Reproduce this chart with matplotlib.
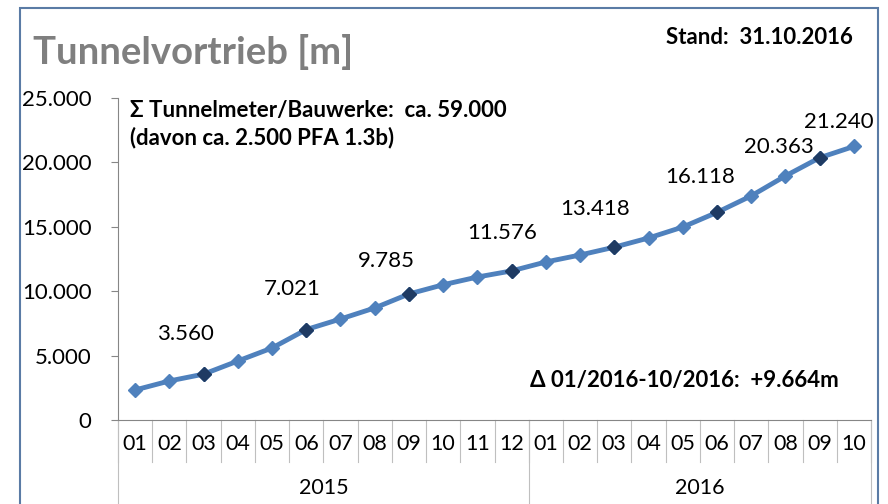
import matplotlib.pyplot as plt
from matplotlib.patches import Rectangle
import matplotlib.transforms as mtransforms

# Daten (kumulativer Tunnelvortrieb in m)
monate = ['01', '02', '03', '04', '05', '06', '07', '08', '09', '10', '11', '12',
          '01', '02', '03', '04', '05', '06', '07', '08', '09', '10']
jahre = ['2015', '2016']
monate_pro_jahr = [12, 10]
vortrieb = [2330, 3030, 3560, 4580, 5590, 7021, 7840, 8700, 9785, 10500, 11100, 11576,
            12270, 12810, 13418, 14130, 14980, 16118, 17400, 18950, 20363, 21240]
quartal_idx = [2, 5, 8, 11, 14, 17, 20]
label_idx = [2, 5, 8, 11, 14, 17, 20, 21]
# Verschiebung der Beschriftungen in Pixel
label_off = [(-18, 40), (-14, 41), (-23, 33), (-9, 38), (-19, 38), (-17, 35), (-41, 11), (-15, 24)]

plt.rcParams['font.family'] = ['Lato', 'DejaVu Sans']

fig = plt.figure(figsize=(8.88, 5.04), dpi=100)
fig.patches.append(Rectangle((20/888, -0.05), 858/888, 1.05 - 8/504, transform=fig.transFigure,
                             fill=False, edgecolor='#5A7BA5', linewidth=1.5))

ax = fig.add_axes([118/888, 1 - 420/504, 753/888, 322/504])
x = list(range(len(vortrieb)))
ax.plot(x, vortrieb, color='#4F81BD', linewidth=3.5, marker='D', markersize=7,
        markerfacecolor='#4F81BD', markeredgecolor='#4F81BD', zorder=3)
ax.plot([x[i] for i in quartal_idx], [vortrieb[i] for i in quartal_idx], linestyle='none',
        marker='D', markersize=7, color='#1F3B63', zorder=4)

for i, (dx, dy) in zip(label_idx, label_off):
    txt = f'{vortrieb[i]:,}'.replace(',', '.')
    ax.annotate(txt, (x[i], vortrieb[i]), xytext=(dx, dy), textcoords='offset pixels',
                ha='center', va='center', fontsize=16, color='black')

ax.set_xlim(-0.5, len(vortrieb) - 0.5)
ax.set_ylim(0, 25000)
ax.set_yticks([0, 5000, 10000, 15000, 20000, 25000])
ax.set_yticklabels(['0', '5.000', '10.000', '15.000', '20.000', '25.000'], fontsize=16)
ax.tick_params(axis='y', length=5, color='#868686', pad=14)
ax.spines['top'].set_visible(False)
ax.spines['right'].set_visible(False)
ax.spines['left'].set_color('#868686')
ax.spines['bottom'].set_color('#868686')

ax.set_xticks(x)
ax.set_xticklabels(monate, fontsize=15.5)
ax.tick_params(axis='x', length=0, pad=10)

trans = mtransforms.blended_transform_factory(ax.transData, ax.transAxes)
for k in range(len(monate) + 1):
    ax.plot([k - 0.5, k - 0.5], [0, -0.13], transform=trans, color='#BFBFBF',
            linewidth=0.8, clip_on=False)
start = -0.5
for j, n in zip(jahre, monate_pro_jahr):
    ax.plot([start, start], [0, -0.27], transform=trans, color='#BFBFBF',
            linewidth=0.8, clip_on=False)
    ax.text(start + n / 2, -0.21, j, transform=trans, ha='center', va='center', fontsize=15.5)
    start += n
ax.plot([start, start], [0, -0.27], transform=trans, color='#BFBFBF', linewidth=0.8, clip_on=False)

fig.text(33/888, 1 - 52/504, 'Tunnelvortrieb [m]', fontsize=27.5, fontweight='bold',
         color='#7F7F7F', va='center', ha='left')
fig.text(853/888, 1 - 37/504, 'Stand:  31.10.2016', fontsize=16, fontweight='bold',
         va='center', ha='right')
fig.text(130/888, 1 - 110/504, 'Σ Tunnelmeter/Bauwerke:  ca. 59.000', fontsize=16,
         fontweight='bold', va='center', ha='left')
fig.text(130/888, 1 - 138/504, '(davon ca. 2.500 PFA 1.3b)', fontsize=16,
         fontweight='bold', va='center', ha='left')
fig.text(530/888, 1 - 381/504, 'Δ 01/2016-10/2016:  +9.664m', fontsize=16,
         fontweight='bold', va='center', ha='left')

fig.savefig('out.png', dpi=100)
